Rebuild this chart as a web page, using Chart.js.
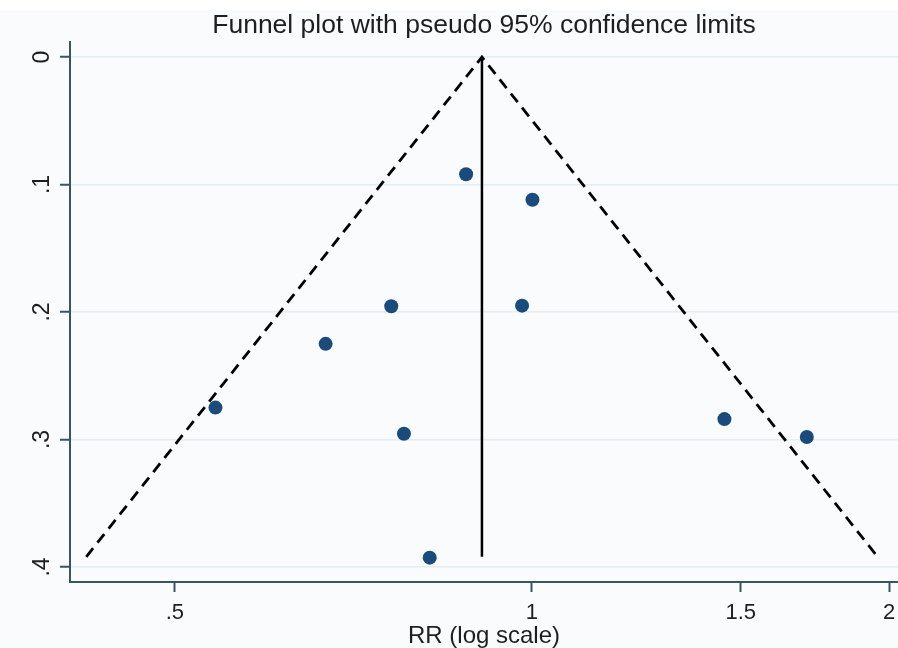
<!DOCTYPE html>
<html><head><meta charset="utf-8">
<script src="https://cdn.jsdelivr.net/npm/chart.js@4"></script>
<style>html,body{margin:0;padding:0;background:#fff}#wrap{width:898px;height:648px}</style>
</head><body><div id="wrap"><canvas id="c" width="898" height="648"></canvas></div>
<script>
// Study estimates (risk ratio) and their standard errors
const studyRR = [0.880, 1.001, 0.761, 0.981, 0.670, 0.541, 0.780, 0.820, 1.453, 1.705];
const studySE = [0.092, 0.112, 0.1955, 0.195, 0.225, 0.275, 0.2955, 0.3927, 0.284, 0.298];
// Pooled estimate line and pseudo 95% confidence limits
const pooledRR = 0.9075;
const pooledLineSE = [0, 0.392];
const funnelRR = [0.421, 0.9075, 1.956];
const funnelSE = [0.392, 0, 0.392];
// Axis ticks
const xTicks = [0.5, 1, 1.5, 2];
const xTickLabels = ['.5', '1', '1.5', '2'];
const yTicks = [0, 0.1, 0.2, 0.3, 0.4];
const yTickLabels = ['0', '.1', '.2', '.3', '.4'];

const FONT = '"Liberation Sans", Arial, Helvetica, sans-serif';
const AXIS = '#3b5465';
const TXT = '#1e1e1e';

const bgPlugin = {
  id: 'bg',
  beforeDraw(chart) {
    const ctx = chart.ctx;
    ctx.save();
    ctx.fillStyle = '#ffffff';
    ctx.fillRect(0, 0, chart.width, chart.height);
    ctx.fillStyle = '#f9fbfd';
    ctx.fillRect(0, 10, chart.width, chart.height - 10);
    ctx.restore();
  }
};
const yLabelPlugin = {
  id: 'ylabels',
  afterDraw(chart) {
    const s = chart.scales.y;
    const ctx = chart.ctx;
    ctx.save();
    ctx.font = '23px ' + FONT;
    ctx.fillStyle = TXT;
    ctx.textAlign = 'center';
    ctx.textBaseline = 'middle';
    yTicks.forEach((v, i) => {
      const py = s.getPixelForValue(v);
      ctx.save();
      ctx.translate(43, py);
      ctx.rotate(-Math.PI / 2);
      ctx.fillText(yTickLabels[i], 0, 0);
      ctx.restore();
    });
    ctx.restore();
  }
};

new Chart(document.getElementById('c'), {
  type: 'scatter',
  data: {
    datasets: [
      {
        label: 'limits',
        data: funnelRR.map((x, i) => ({x, y: funnelSE[i]})),
        showLine: true, borderColor: '#000', borderWidth: 2.8, borderDash: [11, 7],
        pointRadius: 0, fill: false, order: 2
      },
      {
        label: 'pooled',
        data: pooledLineSE.map(y => ({x: pooledRR, y})),
        showLine: true, borderColor: '#000', borderWidth: 2.5,
        pointRadius: 0, fill: false, order: 2
      },
      {
        label: 'studies',
        data: studyRR.map((x, i) => ({x, y: studySE[i]})),
        backgroundColor: '#1b4b7b', borderWidth: 0, pointRadius: 7, order: 1
      }
    ]
  },
  options: {
    responsive: false, animation: false, devicePixelRatio: 1,
    layout: {padding: 0, autoPadding: false},
    plugins: {
      legend: {display: false}, tooltip: {enabled: false},
      title: {
        display: true, fullSize: false,
        text: 'Funnel plot with pseudo 95% confidence limits',
        color: TXT, font: {family: FONT, size: 26.5, weight: 'normal', lineHeight: 1.0},
        padding: {top: 12, bottom: 3.5}
      }
    },
    scales: {
      x: {
        type: 'logarithmic', min: 0.4079, max: 2.0352,
        afterBuildTicks: s => { s.ticks = xTicks.map(v => ({value: v})); },
        afterFit: s => { s.height = 66; s.paddingRight = 0; s.paddingLeft = 0; },
        ticks: {
          callback: (v) => { const i = xTicks.indexOf(v); return i >= 0 ? xTickLabels[i] : ''; },
          color: TXT, font: {family: FONT, size: 22}, padding: 8, maxRotation: 0, autoSkip: false
        },
        grid: {drawOnChartArea: false, drawTicks: true, tickLength: 10, tickColor: AXIS, tickWidth: 2},
        border: {display: true, color: AXIS, width: 2},
        title: {display: true, text: 'RR (log scale)', color: TXT,
          font: {family: FONT, size: 24, lineHeight: 1.0}, padding: {top: 0, bottom: 0}}
      },
      y: {
        type: 'linear', reverse: true, min: -0.0118, max: 0.4118,
        afterBuildTicks: s => { s.ticks = yTicks.map(v => ({value: v})); },
        afterFit: s => { s.width = 70; },
        ticks: {display: false},
        grid: {color: '#e2eef2', lineWidth: 1.5, drawTicks: true, tickLength: 10, tickColor: AXIS, tickWidth: 2},
        border: {display: true, color: AXIS, width: 2}
      }
    }
  },
  plugins: [bgPlugin, yLabelPlugin]
});
</script></body></html>
